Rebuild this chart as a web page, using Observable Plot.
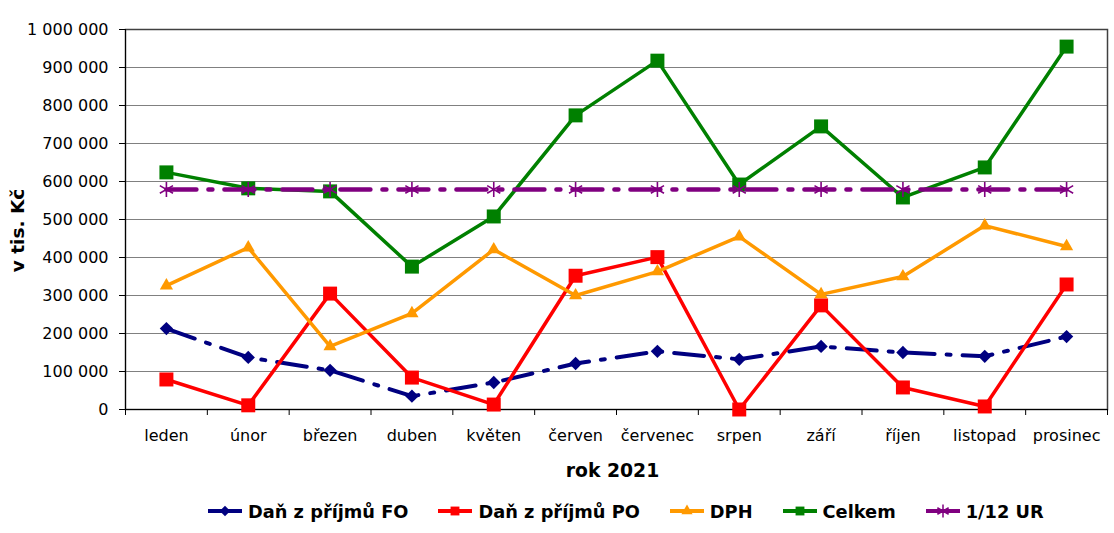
<!DOCTYPE html>
<html>
<head>
<meta charset="utf-8">
<script src="https://cdn.jsdelivr.net/npm/d3@7"></script>
<script src="https://cdn.jsdelivr.net/npm/@observablehq/plot@0.6"></script>
<style>
  html, body { margin: 0; padding: 0; background: #fff; }
  #wrap { position: relative; width: 1114px; height: 533px; font-family: "DejaVu Sans", Verdana, sans-serif; }
  #legend { display: flex; align-items: center; height: 44px; padding-left: 208px; font-weight: bold; font-size: 17.8px; color: #000; }
  .item { display: flex; align-items: center; margin-right: 30px; }
  .item svg { display: block; margin-right: 6px; }
</style>
</head>
<body>
<div id="wrap"><div id="chart"></div><div id="legend"></div></div>
<script>
const months = ["leden", "únor", "březen", "duben", "květen", "červen", "červenec", "srpen", "září", "říjen", "listopad", "prosinec"];
const danFO = [213000, 137000, 103000, 35000, 71000, 121000, 153000, 132000, 166000, 150000, 140000, 192000];
const danPO = [79000, 11000, 305000, 84000, 13000, 352000, 401000, 0, 274000, 58000, 8000, 329000];
const dph = [326000, 426000, 166000, 253000, 421000, 300000, 363000, 455000, 303000, 350000, 484000, 429000];
const celkem = [624000, 582000, 574000, 376000, 508000, 774000, 918000, 592000, 745000, 558000, 637000, 955000];
const ur12 = [579000, 579000, 579000, 579000, 579000, 579000, 579000, 579000, 579000, 579000, 579000, 579000];
const yTicks = [0, 100000, 200000, 300000, 400000, 500000, 600000, 700000, 800000, 900000, 1000000];
const seriesNames = ["Daň z příjmů FO", "Daň z příjmů PO", "DPH", "Celkem", "1/12 UR"];
const yLabel = "v tis. Kč";
const xLabel = "rok 2021";

const locale = d3.formatLocale({decimal: ",", thousands: " ", grouping: [3], currency: ["", ""]});
const fmt = locale.format(",");

const rows = vals => vals.map((v, i) => ({i, month: months[i], v}));
const series = [
  {name: seriesNames[0], data: rows(danFO), color: "#000080", width: 4, dash: "30,12,4,12", symbol: "diamond2", r: 6.0, filled: true},
  {name: seriesNames[1], data: rows(danPO), color: "#ff0000", width: 3.5, dash: null, symbol: "square2", r: 8.9, filled: true},
  {name: seriesNames[2], data: rows(dph), color: "#ff9900", width: 3.5, dash: null, symbol: "triangle2", r: 6.3, filled: true},
  {name: seriesNames[3], data: rows(celkem), color: "#008000", width: 3.5, dash: null, symbol: "square2", r: 8.9, filled: true},
  {name: seriesNames[4], data: rows(ur12), color: "#800080", width: 4.5, dash: "30,12,4,12", symbol: "asterisk", r: 7.2, filled: false}
];

const idx = months.map((m, i) => i);
const bounds = months.map((m, i) => i - 0.5).concat([months.length - 0.5]);

const marks = [
  Plot.gridY(yTicks, {stroke: "#808080", strokeOpacity: 1, strokeWidth: 1}),
  Plot.frame({stroke: "#404040", strokeWidth: 1.5}),
  Plot.ruleX([-0.5], {stroke: "#000", strokeWidth: 1}),
  Plot.ruleY([0], {stroke: "#000", strokeWidth: 1}),
  Plot.axisY(yTicks, {tickSize: 6, tickPadding: 11, tickFormat: fmt, label: null, stroke: "#000"}),
  Plot.axisX(idx, {tickSize: 0, tickPadding: 20, tickFormat: i => months[i], label: null}),
  Plot.axisX(bounds, {tickSize: 6, tickFormat: () => "", label: null, stroke: "#000"}),
  Plot.text([yLabel], {frameAnchor: "left", text: d => d, rotate: -90, dx: -107, dy: 11, fontWeight: "bold", fontSize: 18.5, textAnchor: "middle", lineAnchor: "middle"}),
  Plot.text([xLabel], {frameAnchor: "bottom", text: d => d, dy: 61, dx: -4, fontWeight: "bold", fontSize: 18.8, lineAnchor: "middle"})
];
for (const s of series) {
  marks.push(Plot.line(s.data, {x: "i", y: "v", stroke: s.color, strokeWidth: s.width, strokeDasharray: s.dash, strokeLinejoin: "round"}));
  marks.push(s.filled
    ? Plot.dot(s.data, {x: "i", y: "v", symbol: s.symbol, r: s.r, fill: s.color, stroke: "none"})
    : Plot.dot(s.data, {x: "i", y: "v", symbol: s.symbol, r: s.r, fill: "none", stroke: s.color, strokeWidth: 1.6}));
}

const chart = Plot.plot({
  width: 1114,
  height: 489,
  marginLeft: 125,
  marginRight: 7,
  marginTop: 29,
  marginBottom: 80,
  style: {fontFamily: "DejaVu Sans, Verdana, sans-serif", fontSize: "16px", color: "#000", background: "#fff", overflow: "visible"},
  x: {type: "linear", domain: [-0.5, months.length - 0.5], label: null},
  y: {domain: [0, 1000000], label: null},
  marks
});
document.getElementById("chart").appendChild(chart);

// legend
const legend = d3.select("#legend");
const legendSizes = {diamond2: 70, square2: 100, triangle2: 90, asterisk: 120};
const symMap = {diamond2: d3.symbolDiamond2, square2: d3.symbolSquare2, triangle2: d3.symbolTriangle2, asterisk: d3.symbolAsterisk};
for (const s of series) {
  const it = legend.append("div").attr("class", "item");
  const sv = it.append("svg").attr("width", 34).attr("height", 20);
  sv.append("line").attr("x1", 0).attr("x2", 34).attr("y1", 10).attr("y2", 10)
    .attr("stroke", s.color).attr("stroke-width", 4);
  const p = sv.append("path").attr("transform", "translate(17,10)")
    .attr("d", d3.symbol(symMap[s.symbol], legendSizes[s.symbol])());
  if (s.filled) p.attr("fill", s.color); else p.attr("fill", "none").attr("stroke", s.color).attr("stroke-width", 1.5);
  it.append("span").text(s.name);
}
</script>
</body>
</html>
